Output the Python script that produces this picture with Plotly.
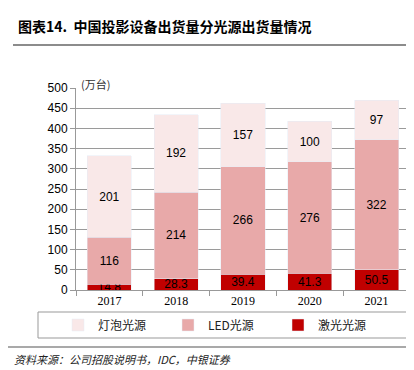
import plotly.graph_objects as go

years = ["2017", "2018", "2019", "2020", "2021"]
laser = [14.8, 28.3, 39.4, 41.3, 50.5]
led = [116, 214, 266, 276, 322]
bulb = [201, 192, 157, 100, 97]

W, H = 414, 370
L, R, T, B = 68, 12, 80, 88
pw, ph = W - L - R, H - T - B

def px(x):
    return (x - L) / pw

def py(y):
    return (H - B - y) / ph

fig = go.Figure()
label_font = dict(family="Liberation Sans, Arial", size=12, color="#000")
fig.add_bar(x=years, y=laser, name="激光光源", marker_color="#C00000",
            text=[str(v) for v in laser], textposition="inside", insidetextanchor="middle",
            constraintext="none", textfont=label_font)
fig.add_bar(x=years, y=led, name="LED光源", marker_color="#E8A9A9",
            text=[str(v) for v in led], textposition="inside", insidetextanchor="middle",
            constraintext="none", textfont=label_font)
fig.add_bar(x=years, y=bulb, name="灯泡光源", marker_color="#F9E8E8",
            text=[str(v) for v in bulb], textposition="inside", insidetextanchor="middle",
            constraintext="none", textfont=label_font)

fig.update_layout(
    width=W, height=H,
    margin=dict(l=L, r=R, t=T, b=B),
    barmode="stack", bargap=0.34,
    plot_bgcolor="white", paper_bgcolor="white",
    showlegend=True,
    legend=dict(orientation="h", x=px(50), y=py(317), yanchor="middle", xanchor="left",
                traceorder="reversed", entrywidth=65, itemwidth=30,
                font=dict(family="Noto Sans CJK SC", size=12, color="#222"),
                bgcolor="rgba(0,0,0,0)", itemclick=False),
    font=dict(family="Liberation Sans, Arial", size=12, color="#000"),
)
fig.update_yaxes(range=[0, 500], dtick=50, showgrid=True, gridcolor="#9a9a9a", gridwidth=1,
                 showline=True, linecolor="#999", linewidth=1, ticks="outside", ticklen=5,
                 tickcolor="#999", tickfont=dict(family="Liberation Sans, Arial", size=12, color="#000"),
                 zeroline=False)
fig.update_xaxes(showline=True, linecolor="#999", linewidth=1, ticks="outside", ticklen=5,
                 tickcolor="#999", tickson="boundaries",
                 tickfont=dict(family="Liberation Serif, Times New Roman", size=12, color="#000"))

shapes = [
    dict(type="line", xref="paper", yref="paper", x0=px(5), x1=px(408), y0=py(37), y1=py(37),
         line=dict(color="#8c8c8c", width=2)),
    dict(type="rect", xref="paper", yref="paper", x0=px(30), x1=px(405), y0=py(304), y1=py(330),
         line=dict(color="#999", width=1)),
    dict(type="line", xref="paper", yref="paper", x0=px(0), x1=px(414), y0=py(339), y1=py(339),
         line=dict(color="#8c8c8c", width=1.5)),
]
fig.update_layout(shapes=shapes)

fig.add_annotation(xref="paper", yref="paper", x=px(8), y=py(18), xanchor="left", yanchor="middle",
                   text="<b>图表14.  中国投影设备出货量分光源出货量情况</b>", showarrow=False,
                   font=dict(family="Noto Sans CJK SC", size=14, color="#000"))
fig.add_annotation(xref="paper", yref="paper", x=px(71), y=py(76), xanchor="left", yanchor="middle",
                   text="(万台)", showarrow=False,
                   font=dict(family="Noto Sans CJK SC", size=11, color="#333"))
fig.add_annotation(xref="paper", yref="paper", x=px(4), y=py(351), xanchor="left", yanchor="middle",
                   text="<i>资料来源：公司招股说明书，IDC，中银证券</i>", showarrow=False,
                   font=dict(family="Noto Sans CJK SC", size=11, color="#222"))

fig.write_html("out.html")
